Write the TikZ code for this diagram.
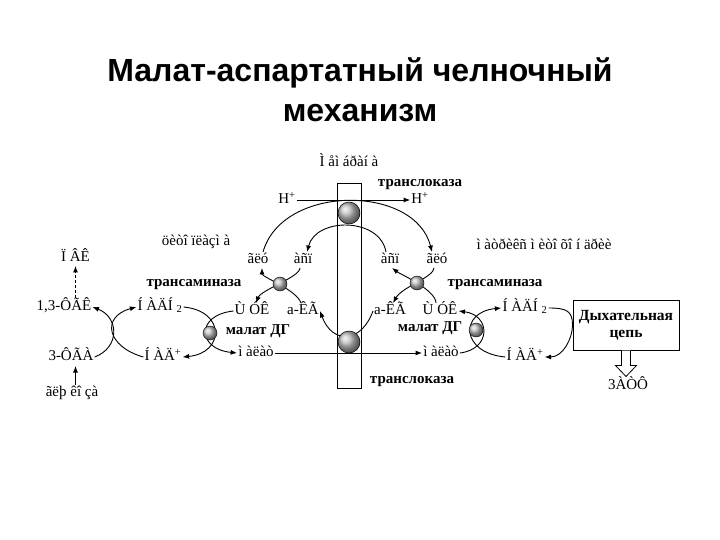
\documentclass[tikz,border=0pt]{standalone}
\usepackage{fontspec}
\setmainfont{Liberation Serif}
\newfontfamily\titlefont{Liberation Sans}
\usetikzlibrary{arrows.meta}
\begin{document}
\begin{tikzpicture}[x=1pt,y=-1pt,
  lbl/.style={font=\fontsize{15}{17}\selectfont, inner sep=1pt, text height=10.5pt, text depth=3pt},
  blbl/.style={font=\fontsize{15}{17}\selectfont\bfseries, inner sep=1pt, text height=10.5pt, text depth=3pt},
  ttl/.style={font=\titlefont\bfseries\fontsize{32}{38}\selectfont, anchor=base, inner sep=0pt},
  ln/.style={line width=0.9pt},
  arr/.style={ln, -{Latex[length=6.5pt,width=5pt]}},
  bigball/.style={circle, draw=black, line width=0.5pt, minimum size=22pt, inner sep=0pt, ball color=gray!50},
  smallball/.style={circle, draw=black, line width=0.4pt, minimum size=14pt, inner sep=0pt, ball color=gray!50}]
\fill[white] (0,0) rectangle (720,540);
\useasboundingbox (0,0) rectangle (720,540);

% title
\node[ttl] (t1) at (360,82) {Малат-аспартатный челночный};
\node[ttl] (t2) at (360,122) {механизм};

% membrane
\node[draw, line width=0.8pt, minimum width=24pt, minimum height=205pt, inner sep=0pt] (memb) at (349,285.5) {};

% sphere positions
\coordinate (sTop) at (349,213);
\coordinate (sBot) at (349,342);
\coordinate (sTL) at (280,284);
\coordinate (sML) at (210,333);
\coordinate (sTR) at (417,283);
\coordinate (sMR) at (476,330);

% labels
\node[lbl] (membl) at (349,163) {Ì åì áðàí à};
\node[blbl] (trtop) at (420,183) {транслоказа};
\node[lbl] (hL) at (287,200) {H\textsuperscript{+}};
\node[lbl] (hR) at (420,200) {H\textsuperscript{+}};
\node[lbl] (cyto) at (196,242) {öèòî ïëàçì à};
\node[lbl] (matr) at (544,246) {ì àòðèêñ ì èòî õî í äðèè};
\node[lbl] (pvk) at (75.5,258) {Ï ÂÊ};
\node[lbl] (gluL) at (258,260) {ãëó};
\node[lbl] (aspL) at (303,260) {àñï};
\node[lbl] (aspR) at (390,260) {àñï};
\node[lbl] (gluR) at (437,260) {ãëó};
\node[blbl] (taL) at (194,283) {трансаминаза};
\node[blbl] (taR) at (495,283) {трансаминаза};
\node[lbl] (fgk) at (64,307) {1,3-ÔÃÊ};
\node[lbl] (nadhL) at (160,307) {Í ÀÄÍ \textsubscript{2}};
\node[lbl] (oaaL) at (252,311) {Ù ÓÊ};
\node[lbl] (akgL) at (303,311) {a-ÊÃ};
\node[lbl] (akgR) at (390,311) {a-ÊÃ};
\node[lbl] (oaaR) at (440,311) {Ù ÓÊ};
\node[lbl] (nadhR) at (525,308) {Í ÀÄÍ \textsubscript{2}};
\node[blbl] (mdgL) at (258,331) {малат ДГ};
\node[blbl] (mdgR) at (430,328) {малат ДГ};
\node[lbl] (fga) at (71,357) {3-ÔÃÀ};
\node[lbl] (nadL) at (163,357) {Í ÀÄ\textsuperscript{+}};
\node[lbl] (malL) at (256,353) {ì àëàò};
\node[lbl] (malR) at (441,353) {ì àëàò};
\node[lbl] (nadR) at (525,357) {Í ÀÄ\textsuperscript{+}};
\node[lbl] (gluc) at (72,393) {ãëþ êî çà};
\node[blbl] (trbot) at (412,380) {транслоказа};
\node[draw, line width=1pt, minimum width=106pt, minimum height=50pt, align=center,
      font=\fontsize{15.5}{17}\selectfont\bfseries, inner sep=2pt] (box) at (626,325) {Дыхательная\\цепь};
\node[lbl] (atp) at (628,386) {3ÀÒÔ};

% free ends of the vertical glycolysis arrows
\coordinate (dashStart) at (75.5,298);
\coordinate (glcStart) at (75.5,385);
\coordinate (glcEnd) at (75.5,366);

% top translocase
\draw[arr] (hL.east) -- (hR.west);
\draw[arr] ([xshift=5pt]gluL.north) .. controls +(19,-68) and +(-17,-68) .. ([xshift=-5pt]gluR.north);
\draw[arr] ([xshift=-4pt]aspR.north) .. controls +(-6,-35) and +(9,-35) .. ([xshift=4pt]aspL.north);

% bottom translocase
\draw[arr] (malL.east) -- (malR.west);
\draw[arr] (akgR.west) .. controls +(-12,33) and +(12,33) .. (akgL.east);

% left transaminase
\draw[arr] ([xshift=-2pt]akgL.north) .. controls (297,290) and (262,277) .. ([xshift=4pt]gluL.south);
\draw[arr] ([xshift=-3pt]aspL.south) .. controls (300,277) and (261,290) .. ([xshift=4pt]oaaL.north);

% right transaminase
\draw[arr] ([xshift=-3pt]gluR.south) .. controls (434,277) and (402,287) .. ([xshift=3pt]akgR.north);
\draw[arr] ([xshift=-4pt]oaaR.north) .. controls (436,290) and (400,274) .. ([xshift=2pt]aspR.south);

% glycolysis
\draw[arr] (fga.east) .. controls +(26,-10) and +(26,10) .. (fgk.east);
\draw[arr] (nadL.west) .. controls +(-36,-10) and +(-36,10) .. (nadhL.west);
\draw[arr, line width=1pt, dash pattern=on 3pt off 2pt] (dashStart) -- (pvk.south);
\draw[arr, line width=1pt] (glcStart) -- (glcEnd);

% left malate DH
\draw[arr] (nadhL.east) .. controls +(42,4) and +(42,-4) .. (nadL.east);
\draw[arr] (oaaL.west) .. controls +(-38,4) and +(-40,-4) .. (malL.west);

% right malate DH
\draw[arr] (malR.east) .. controls +(32,-4) and +(32,4) .. (oaaR.east);
\draw[arr] (nadR.west) .. controls +(-45,-4) and +(-42,4) .. (nadhR.west);

% respiratory chain
\draw[arr] (nadhR.east) .. controls +(18,0) and +(0,-14) .. (box.west) .. controls +(0,14) and +(18,0) .. (nadR.east);
\draw[line width=0.8pt, fill=white] ([xshift=-4.5pt]box.south) -- ++(0,15) -- ++(-6,0) -- ++(10.5,11) -- ++(10.5,-11) -- ++(-6,0) -- ++(0,-15);

% spheres
\node[bigball] (bTop) at (sTop) {};
\node[bigball] (bBot) at (sBot) {};
\node[smallball] (bTL) at (sTL) {};
\node[smallball] (bML) at (sML) {};
\node[smallball] (bTR) at (sTR) {};
\node[smallball] (bMR) at (sMR) {};
\end{tikzpicture}
\end{document}
